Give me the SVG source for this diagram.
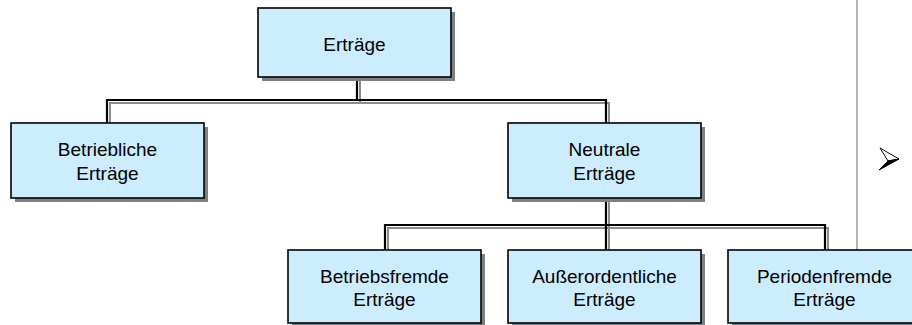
<svg xmlns="http://www.w3.org/2000/svg" width="912" height="325" viewBox="0 0 912 325">
  <style>
    .shadow { fill: #808080; }
    .box { fill: #CCECFF; stroke: #000000; stroke-width: 1.6; }
    .label { font-family: "Liberation Sans", Arial, sans-serif; font-size: 19px; fill: #000000; text-anchor: middle; }
    .wire { fill: none; stroke: #000000; stroke-width: 2.2; }
    .wire-shade { fill: none; stroke: #8c8c8c; stroke-width: 2; }
    .divider { stroke: #808080; stroke-width: 1.2; }
  </style>

  <!-- vertical separator on the right -->
  <line class="divider" x1="857" y1="0" x2="857" y2="250"/>

  <!-- bullet arrowhead: light upper facet, dark lower facet -->
  <g id="bullet">
    <polygon points="880,148 899,159 888,161" fill="#ffffff" stroke="#000000" stroke-width="1" stroke-linejoin="round"/>
    <polygon points="888,161 899,159 879,170" fill="#000000" stroke="#000000" stroke-width="1" stroke-linejoin="round"/>
  </g>

  <!-- connectors: grey offset copy under the black line -->
  <g id="connectors">
    <g transform="translate(3,3)">
      <path class="wire-shade" d="M357 77 V100 M107 123 V100 H606 V123"/>
      <path class="wire-shade" d="M606 198 V225 M385 250 V225 H825 V250 M606 225 V250"/>
    </g>
    <path class="wire" d="M357 77 V100 M107 123 V100 H606 V123"/>
    <path class="wire" d="M606 198 V225 M385 250 V225 H825 V250 M606 225 V250"/>
  </g>

  <g id="ertraege">
    <rect class="shadow" x="262" y="12" width="193" height="69"/>
    <rect class="box" x="258" y="8" width="193" height="69"/>
    <text class="label" x="354.5" y="51">Erträge</text>
  </g>

  <g id="betriebliche">
    <rect class="shadow" x="15" y="127" width="193" height="75"/>
    <rect class="box" x="11" y="123" width="193" height="75"/>
    <text class="label" x="107.5" y="156">Betriebliche</text>
    <text class="label" x="107.5" y="180">Erträge</text>
  </g>

  <g id="neutrale">
    <rect class="shadow" x="512" y="127" width="193" height="75"/>
    <rect class="box" x="508" y="123" width="193" height="75"/>
    <text class="label" x="604.5" y="156">Neutrale</text>
    <text class="label" x="604.5" y="180">Erträge</text>
  </g>

  <g id="betriebsfremde">
    <rect class="shadow" x="292" y="254" width="193" height="73"/>
    <rect class="box" x="288" y="250" width="193" height="73"/>
    <text class="label" x="384.5" y="283">Betriebsfremde</text>
    <text class="label" x="384.5" y="306">Erträge</text>
  </g>

  <g id="ausserordentliche">
    <rect class="shadow" x="512" y="254" width="193" height="73"/>
    <rect class="box" x="508" y="250" width="193" height="73"/>
    <text class="label" x="604.5" y="283">Außerordentliche</text>
    <text class="label" x="604.5" y="306">Erträge</text>
  </g>

  <g id="periodenfremde">
    <rect class="shadow" x="732" y="254" width="193" height="73"/>
    <rect class="box" x="728" y="250" width="193" height="73"/>
    <text class="label" x="824.5" y="283">Periodenfremde</text>
    <text class="label" x="824.5" y="306">Erträge</text>
  </g>
</svg>
